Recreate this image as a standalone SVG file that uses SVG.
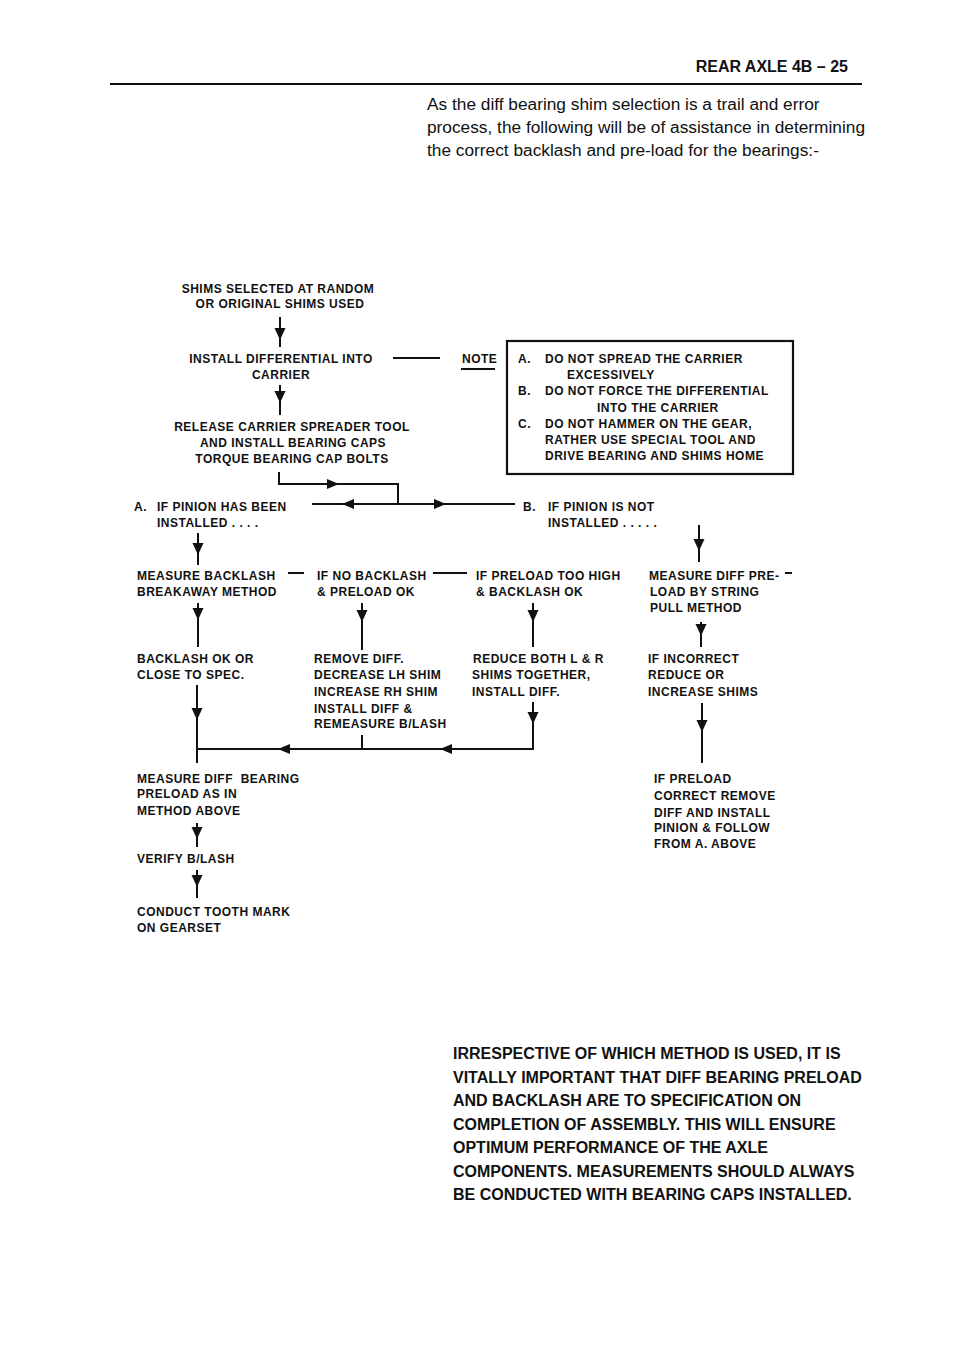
<svg xmlns="http://www.w3.org/2000/svg" xmlns:xlink="http://www.w3.org/1999/xlink" width="960" height="1351" viewBox="0 0 960 1351">
<defs>
<style>
.t{font-family:"Liberation Sans",Arial,sans-serif;font-weight:bold;font-size:12px;letter-spacing:0.5px;fill:#111}
.m{text-anchor:middle}
.p{font-family:"Liberation Sans",Arial,sans-serif;font-size:17.3px;fill:#111}
.h{font-family:"Liberation Sans",Arial,sans-serif;font-weight:bold;font-size:16px;fill:#111}
.ln{stroke:#111;stroke-width:2;fill:none}
.bx{stroke:#111;stroke-width:2.2;fill:none}
</style>
<path id="ad" d="M-5.5,-6 L5.5,-6 L0,6 Z" fill="#111"/>
<path id="al" d="M-6,0 L6,-5 L6,5 Z" fill="#111"/>
<path id="ar" d="M6,0 L-6,-5 L-6,5 Z" fill="#111"/>
</defs>
<rect width="960" height="1351" fill="#fff"/>

<g id="header">
<text class="h" x="848" y="72" text-anchor="end">REAR AXLE 4B – 25</text>
<line x1="110" y1="84" x2="862" y2="84" stroke="#111" stroke-width="2.2"/>
</g>

<g id="intro">
<text class="p" x="427" y="110">As the diff bearing shim selection is a trail and error</text>
<text class="p" x="427" y="133">process, the following will be of assistance in determining</text>
<text class="p" x="427" y="156">the correct backlash and pre-load for the bearings:-</text>
</g>

<g id="connectors">
<line class="ln" x1="280" y1="317" x2="280" y2="347"/><use href="#ad" x="280" y="334"/>
<line class="ln" x1="393" y1="358" x2="440" y2="358"/>
<line class="ln" x1="280" y1="385" x2="280" y2="415"/><use href="#ad" x="280" y="397"/>
<polyline class="ln" points="279,472 279,484 398,484 398,504"/><use href="#ar" x="333" y="484"/>
<line class="ln" x1="312" y1="504" x2="515" y2="504"/><use href="#al" x="348" y="504"/><use href="#ar" x="440" y="504"/>
<line class="ln" x1="198" y1="533" x2="198" y2="565"/><use href="#ad" x="198" y="549"/>
<line class="ln" x1="699" y1="525" x2="699" y2="562"/><use href="#ad" x="699" y="545"/>
<line class="ln" x1="288" y1="573" x2="304" y2="573"/>
<line class="ln" x1="433" y1="573" x2="467" y2="573"/>
<line class="ln" x1="785" y1="573" x2="792" y2="573"/>
<line class="ln" x1="198" y1="603" x2="198" y2="647"/><use href="#ad" x="198" y="614"/>
<line class="ln" x1="362" y1="603" x2="362" y2="650"/><use href="#ad" x="362" y="616"/>
<line class="ln" x1="533" y1="603" x2="533" y2="647"/><use href="#ad" x="533" y="616"/>
<line class="ln" x1="701" y1="622" x2="701" y2="647"/><use href="#ad" x="701" y="630"/>
<line class="ln" x1="197" y1="685" x2="197" y2="763"/><use href="#ad" x="197" y="714"/>
<line class="ln" x1="362" y1="735" x2="362" y2="749"/>
<polyline class="ln" points="533,702 533,749 197,749"/><use href="#ad" x="533" y="718"/>
<use href="#al" x="446" y="749"/><use href="#al" x="284" y="749"/>
<line class="ln" x1="702" y1="703" x2="702" y2="763"/><use href="#ad" x="702" y="726"/>
<line class="ln" x1="197" y1="823" x2="197" y2="847"/><use href="#ad" x="197" y="833"/>
<line class="ln" x1="197" y1="870" x2="197" y2="898"/><use href="#ad" x="197" y="881"/>
</g>

<g id="n-shims">
<text class="t m" x="278" y="293">SHIMS SELECTED AT RANDOM</text>
<text class="t m" x="280" y="308">OR ORIGINAL SHIMS USED</text>
</g>
<g id="n-install">
<text class="t m" x="281" y="363">INSTALL DIFFERENTIAL INTO</text>
<text class="t m" x="281" y="379">CARRIER</text>
</g>
<g id="n-release">
<text class="t m" x="292" y="431">RELEASE CARRIER SPREADER TOOL</text>
<text class="t m" x="293" y="447">AND INSTALL BEARING CAPS</text>
<text class="t m" x="292" y="463">TORQUE BEARING CAP BOLTS</text>
</g>
<g id="n-note">
<text class="t" x="462" y="363">NOTE</text>
<line x1="461" y1="369" x2="495" y2="369" stroke="#111" stroke-width="1.8"/>
<rect class="bx" x="507" y="341" width="286" height="133"/>
<text class="t" x="518" y="363">A.</text>
<text class="t" x="545" y="363">DO NOT SPREAD THE CARRIER</text>
<text class="t" x="567" y="379">EXCESSIVELY</text>
<text class="t" x="518" y="395">B.</text>
<text class="t" x="545" y="395">DO NOT FORCE THE DIFFERENTIAL</text>
<text class="t" x="597" y="412">INTO THE CARRIER</text>
<text class="t" x="518" y="428">C.</text>
<text class="t" x="545" y="428">DO NOT HAMMER ON THE GEAR,</text>
<text class="t" x="545" y="444">RATHER USE SPECIAL TOOL AND</text>
<text class="t" x="545" y="460">DRIVE BEARING AND SHIMS HOME</text>
</g>
<g id="n-a">
<text class="t" x="134" y="511">A.</text>
<text class="t" x="157" y="511">IF PINION HAS BEEN</text>
<text class="t" x="157" y="527">INSTALLED . . . .</text>
</g>
<g id="n-b">
<text class="t" x="523" y="511">B.</text>
<text class="t" x="548" y="511">IF PINION IS NOT</text>
<text class="t" x="548" y="527">INSTALLED . . . . .</text>
</g>
<g id="n-measure-backlash">
<text class="t" x="137" y="580">MEASURE BACKLASH</text>
<text class="t" x="137" y="596">BREAKAWAY METHOD</text>
</g>
<g id="n-no-backlash">
<text class="t" x="317" y="580">IF NO BACKLASH</text>
<text class="t" x="317" y="596">&amp; PRELOAD OK</text>
</g>
<g id="n-preload-high">
<text class="t" x="476" y="580">IF PRELOAD TOO HIGH</text>
<text class="t" x="476" y="596">&amp; BACKLASH OK</text>
</g>
<g id="n-measure-preload">
<text class="t" x="649" y="580">MEASURE DIFF PRE-</text>
<text class="t" x="650" y="596">LOAD BY STRING</text>
<text class="t" x="650" y="612">PULL METHOD</text>
</g>
<g id="n-backlash-ok">
<text class="t" x="137" y="663">BACKLASH OK OR</text>
<text class="t" x="137" y="679">CLOSE TO SPEC.</text>
</g>
<g id="n-remove-diff">
<text class="t" x="314" y="663">REMOVE DIFF.</text>
<text class="t" x="314" y="679">DECREASE LH SHIM</text>
<text class="t" x="314" y="696">INCREASE RH SHIM</text>
<text class="t" x="314" y="713">INSTALL DIFF &amp;</text>
<text class="t" x="314" y="728">REMEASURE B/LASH</text>
</g>
<g id="n-reduce-both">
<text class="t" x="473" y="663">REDUCE BOTH L &amp; R</text>
<text class="t" x="472" y="679">SHIMS TOGETHER,</text>
<text class="t" x="472" y="696">INSTALL DIFF.</text>
</g>
<g id="n-if-incorrect">
<text class="t" x="648" y="663">IF INCORRECT</text>
<text class="t" x="648" y="679">REDUCE OR</text>
<text class="t" x="648" y="696">INCREASE SHIMS</text>
</g>
<g id="n-measure-bearing">
<text class="t" x="137" y="783" xml:space="preserve">MEASURE DIFF  BEARING</text>
<text class="t" x="137" y="798">PRELOAD AS IN</text>
<text class="t" x="137" y="815">METHOD ABOVE</text>
</g>
<g id="n-preload-correct">
<text class="t" x="654" y="783">IF PRELOAD</text>
<text class="t" x="654" y="800">CORRECT REMOVE</text>
<text class="t" x="654" y="817">DIFF AND INSTALL</text>
<text class="t" x="654" y="832">PINION &amp; FOLLOW</text>
<text class="t" x="654" y="848">FROM A. ABOVE</text>
</g>
<g id="n-verify">
<text class="t" x="137" y="863">VERIFY B/LASH</text>
</g>
<g id="n-tooth">
<text class="t" x="137" y="916">CONDUCT TOOTH MARK</text>
<text class="t" x="137" y="932">ON GEARSET</text>
</g>

<g id="footer">
<text class="h" x="453" y="1059">IRRESPECTIVE OF WHICH METHOD IS USED, IT IS</text>
<text class="h" x="453" y="1082.5">VITALLY IMPORTANT THAT DIFF BEARING PRELOAD</text>
<text class="h" x="453" y="1106">AND BACKLASH ARE TO SPECIFICATION ON</text>
<text class="h" x="453" y="1129.5">COMPLETION OF ASSEMBLY. THIS WILL ENSURE</text>
<text class="h" x="453" y="1153">OPTIMUM PERFORMANCE OF THE AXLE</text>
<text class="h" x="453" y="1176.5">COMPONENTS. MEASUREMENTS SHOULD ALWAYS</text>
<text class="h" x="453" y="1200">BE CONDUCTED WITH BEARING CAPS INSTALLED.</text>
</g>
</svg>
